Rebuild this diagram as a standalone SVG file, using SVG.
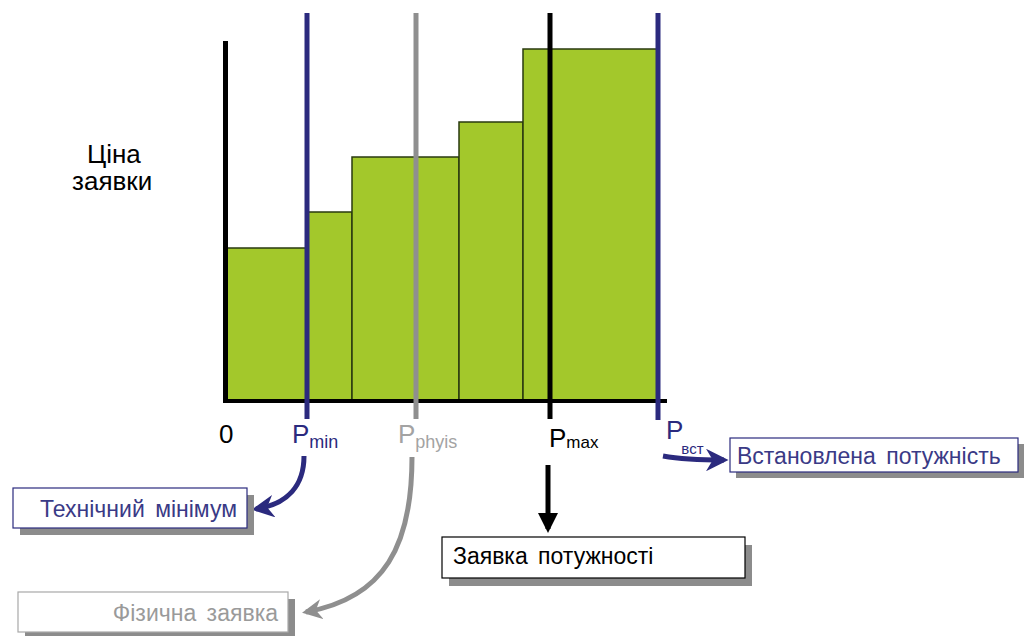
<svg xmlns="http://www.w3.org/2000/svg" width="1033" height="636" viewBox="0 0 1033 636">
<defs>
<style>
.bar{fill:#a3c82b;stroke:#2a3a10;stroke-width:1.5}
.lbl{font-family:"Liberation Sans",Arial,sans-serif}
.box{fill:#fff;stroke-width:1.2}
.shadow{fill:#8c8c8c}
.bt{font-family:"Liberation Sans",Arial,sans-serif;font-size:23px;word-spacing:4px}
</style>
<marker id="ahBlue" viewBox="0 0 10 10" refX="8" refY="5" markerWidth="4.5" markerHeight="4.5" orient="auto" markerUnits="strokeWidth"><path d="M0,0 L10,5 L0,10 L3,5 Z" fill="#2b2a7e"/></marker>
<marker id="ahGray" viewBox="0 0 10 10" refX="8" refY="5" markerWidth="4" markerHeight="4" orient="auto" markerUnits="strokeWidth"><path d="M0,0 L10,5 L0,10 L3,5 Z" fill="#8f8f8f"/></marker>
<marker id="ahBlack" viewBox="0 0 10 10" refX="8" refY="5" markerWidth="4" markerHeight="4" orient="auto" markerUnits="strokeWidth"><path d="M0,0 L10,5 L0,10 Z" fill="#000"/></marker>
</defs>
<rect width="1033" height="636" fill="#fff"/>

<g id="bars">
<rect class="bar" x="226" y="248" width="81" height="153"/>
<rect class="bar" x="307" y="212" width="45" height="189"/>
<rect class="bar" x="352" y="157" width="107" height="244"/>
<rect class="bar" x="459" y="122" width="64" height="279"/>
<rect class="bar" x="523" y="49" width="136" height="352"/>
</g>

<g id="axes">
<line x1="225.5" y1="41" x2="225.5" y2="403" stroke="#000" stroke-width="5"/>
<line x1="223" y1="401" x2="667" y2="401" stroke="#000" stroke-width="4"/>
</g>

<g id="markers">
<line x1="307" y1="13" x2="307" y2="419" stroke="#2b2a7e" stroke-width="5"/>
<line x1="416" y1="13" x2="416" y2="419" stroke="#8f8f8f" stroke-width="5"/>
<line x1="550" y1="13" x2="550" y2="419" stroke="#000" stroke-width="5"/>
<line x1="658" y1="13" x2="658" y2="420" stroke="#2b2a7e" stroke-width="5"/>
</g>

<g id="ylabel" class="lbl" font-size="26" fill="#000">
<text x="87" y="163">Ціна</text>
<text x="72" y="190">заявки</text>
</g>

<g id="xlabels" class="lbl">
<text x="219" y="443" font-size="26" fill="#000">0</text>
<text x="292" y="443" font-size="26" fill="#2b2a7e">P<tspan font-size="18" dy="5">min</tspan></text>
<text x="398" y="443" font-size="26" fill="#a3a3a3">P<tspan font-size="18" dy="5">phyis</tspan></text>
<text x="549" y="447" font-size="26" fill="#000">P<tspan font-size="17" dy="1">max</tspan></text>
<text x="666" y="439" font-size="26" fill="#2b2a7e">P<tspan font-size="15" dy="15" dx="-2">вст</tspan></text>
</g>

<g id="connectors" fill="none">
<path d="M304,456 C304,485 288,504 256,509" stroke="#2b2a7e" stroke-width="5" marker-end="url(#ahBlue)"/>
<path d="M412,457 C412,545 385,598 306,612" stroke="#8f8f8f" stroke-width="5" marker-end="url(#ahGray)"/>
<path d="M548,465 L548,529" stroke="#000" stroke-width="5" marker-end="url(#ahBlack)"/>
<path d="M663,456 C685,460 705,460 724,460" stroke="#2b2a7e" stroke-width="5" marker-end="url(#ahBlue)"/>
</g>

<g id="node-installed">
<rect class="shadow" x="736" y="444" width="288" height="34"/>
<rect class="box" x="730" y="438" width="288" height="34" stroke="#2b2a7e"/>
<text class="bt" x="737" y="464" fill="#3a3a86">Встановлена потужність</text>
</g>

<g id="node-techmin">
<rect class="shadow" x="20" y="495" width="234" height="40"/>
<rect class="box" x="13" y="488" width="234" height="40" stroke="#2b2a7e"/>
<text class="bt" x="40" y="517" fill="#3a3a86">Технічний мінімум</text>
</g>

<g id="node-physical">
<rect class="shadow" x="25" y="599" width="270" height="37"/>
<rect class="box" x="18" y="592" width="270" height="40" stroke="#a8a8a8"/>
<text class="bt" x="278" y="621" fill="#9a9a9a" text-anchor="end">Фізична заявка</text>
</g>

<g id="node-bid">
<rect class="shadow" x="449" y="545" width="303" height="41"/>
<rect class="box" x="442" y="537" width="303" height="41" stroke="#000"/>
<text class="bt" x="453" y="564" fill="#000">Заявка потужності</text>
</g>
</svg>
